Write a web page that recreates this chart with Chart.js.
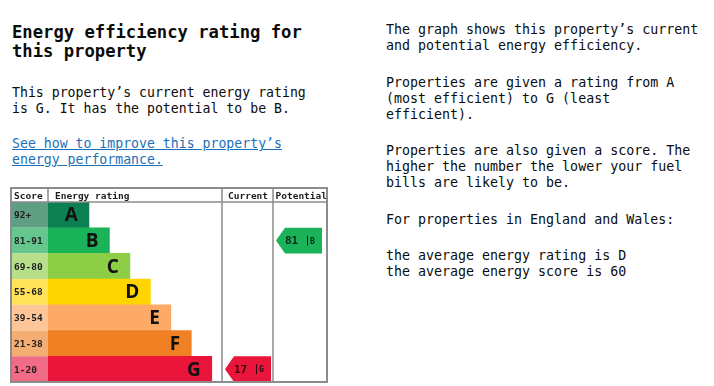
<!DOCTYPE html>
<html>
<head>
<meta charset="utf-8">
<script src="https://cdn.jsdelivr.net/npm/chart.js@4.4.0/dist/chart.umd.min.js"></script>
<style>
  body { margin: 0; background: #fff; width: 714px; height: 386px; overflow: hidden; position: relative;
         font-family: "DejaVu Sans Mono", "Liberation Mono", monospace; color: #0b0c0c; }
  .blk { position: absolute; margin: 0; }
  h1 { font-size: 17.2px; line-height: 19px; font-weight: bold; }
  .txt { font-size: 13.2px; line-height: 15.5px; }
  a { color: #1d70b8; text-decoration: underline; }
  .side p { margin: 0 0 20.5px 0; font-size: 13.3px; line-height: 16px; }
  #epc { position: absolute; left: 0; top: 180px; }
</style>
</head>
<body>
<h1 class="blk" style="left:12px; top:23px;">Energy efficiency rating for<br>this property</h1>
<p class="blk txt" style="left:12px; top:85px;">This property’s current energy rating<br>is G. It has the potential to be B.</p>
<p class="blk txt" style="left:12px; top:136px;"><a href="#">See how to improve this property’s<br>energy performance.</a></p>

<div class="blk side" style="left:386px; top:22px;">
  <p>The graph shows this property’s current<br>and potential energy efficiency.</p>
  <p>Properties are given a rating from A<br>(most efficient) to G (least<br>efficient).</p>
  <p>Properties are also given a score. The<br>higher the number the lower your fuel<br>bills are likely to be.</p>
  <p>For properties in England and Wales:</p>
  <p>the average energy rating is D<br>the average energy score is 60</p>
</div>

<canvas id="epc" width="340" height="206"></canvas>

<script>
// bands, top (most efficient) to bottom
const bands = ['A', 'B', 'C', 'D', 'E', 'F', 'G'];
const scoreRanges = ['92+', '81-91', '69-80', '55-68', '39-54', '21-38', '1-20'];
const barLengths = [2, 3, 4, 5, 6, 7, 8];
const currentScore = 17;
const currentBand = 'G';
const potentialScore = 81;
const potentialBand = 'B';

const barColours = ['#0c7f53', '#1bb35a', '#8dce46', '#ffd500', '#fcaa65', '#ef8023', '#e9153b'];
const scoreColours = ['#5e9e82', '#66c78e', '#b7df8a', '#ffe15a', '#fdc699', '#f4ad72', '#f06c86'];

const MONO = '"DejaVu Sans Mono", "Liberation Mono", monospace';

const epcTable = {
  id: 'epcTable',
  beforeDatasetsDraw(chart) {
    const ctx = chart.ctx, y = chart.scales.y, area = chart.chartArea;
    const h = (area.bottom - area.top) / bands.length;
    ctx.save();
    bands.forEach((b, i) => {
      const cy = y.getPixelForValue(i);
      ctx.fillStyle = scoreColours[i];
      ctx.fillRect(11, cy - h / 2, area.left - 11, h);
      ctx.fillStyle = '#1e1e1e';
      ctx.font = 'bold 9.5px ' + MONO;
      ctx.textBaseline = 'middle';
      ctx.fillText(scoreRanges[i], 14, cy + 1);
    });
    ctx.restore();
  },
  afterDatasetsDraw(chart) {
    const ctx = chart.ctx, x = chart.scales.x, y = chart.scales.y, area = chart.chartArea;
    const h = (area.bottom - area.top) / bands.length;
    const top = 8, colCur = area.right, colPot = 273, right = 327;
    ctx.save();
    // band letters
    ctx.font = 'bold 19px "Open Sans", "Liberation Sans", sans-serif';
    ctx.textAlign = 'right';
    ctx.textBaseline = 'middle';
    ctx.fillStyle = '#111';
    bands.forEach((b, i) => {
      ctx.fillText(b, x.getPixelForValue(barLengths[i]) - 11, y.getPixelForValue(i) + 1);
    });

    // arrows
    const arrow = (band, score, colour, x0, x1) => {
      const i = bands.indexOf(band);
      const cy = y.getPixelForValue(i);
      ctx.fillStyle = colour;
      ctx.beginPath();
      ctx.moveTo(x0, cy);
      ctx.lineTo(x0 + 9, cy - h / 2);
      ctx.lineTo(x1, cy - h / 2);
      ctx.lineTo(x1, cy + h / 2);
      ctx.lineTo(x0 + 9, cy + h / 2);
      ctx.closePath();
      ctx.fill();
      ctx.fillStyle = 'rgba(0,0,0,0.78)';
      ctx.textAlign = 'left';
      ctx.textBaseline = 'middle';
      ctx.font = 'bold 11px ' + MONO;
      ctx.fillText(String(score), x0 + 9, cy + 1);
      ctx.fillRect(x0 + 31, cy - 5, 1, 10);
      ctx.font = 'bold 8px ' + MONO;
      ctx.fillText(band, x0 + 34, cy + 1);
    };
    arrow(currentBand, currentScore, barColours[bands.indexOf(currentBand)], colCur + 3, colPot - 2);
    arrow(potentialBand, potentialScore, barColours[bands.indexOf(potentialBand)], colPot + 3, right - 5);

    // header
    ctx.fillStyle = '#1e1e1e';
    ctx.font = 'bold 9.5px ' + MONO;
    ctx.textAlign = 'left';
    ctx.textBaseline = 'alphabetic';
    ctx.fillText('Score', 14, 19);
    ctx.fillText('Energy rating', 55, 19);
    ctx.fillText('Current', 228, 19);
    ctx.fillText('Potential', 275.5, 19);

    // grid lines
    ctx.strokeStyle = '#8c8c8c';
    ctx.lineWidth = 1.5;
    ctx.beginPath();
    ctx.moveTo(11, area.top); ctx.lineTo(right, area.top);
    ctx.moveTo(area.left, top); ctx.lineTo(area.left, area.top);
    ctx.moveTo(colCur, top); ctx.lineTo(colCur, area.bottom);
    ctx.moveTo(colPot, top); ctx.lineTo(colPot, area.bottom);
    ctx.stroke();
    ctx.lineWidth = 2;
    ctx.strokeRect(11, top, right - 11, area.bottom - top);
    ctx.restore();
  }
};

new Chart(document.getElementById('epc'), {
  type: 'bar',
  data: {
    labels: bands,
    datasets: [{
      data: barLengths,
      backgroundColor: barColours,
      borderWidth: 0,
      barPercentage: 1,
      categoryPercentage: 1
    }]
  },
  options: {
    indexAxis: 'y',
    responsive: false,
    animation: false,
    layout: { padding: { left: 48, right: 118, top: 22, bottom: 4 } },
    scales: {
      x: { display: false, min: 0, max: 8.5 },
      y: { display: false }
    },
    plugins: { legend: { display: false }, tooltip: { enabled: false } }
  },
  plugins: [epcTable]
});
</script>
</body>
</html>
